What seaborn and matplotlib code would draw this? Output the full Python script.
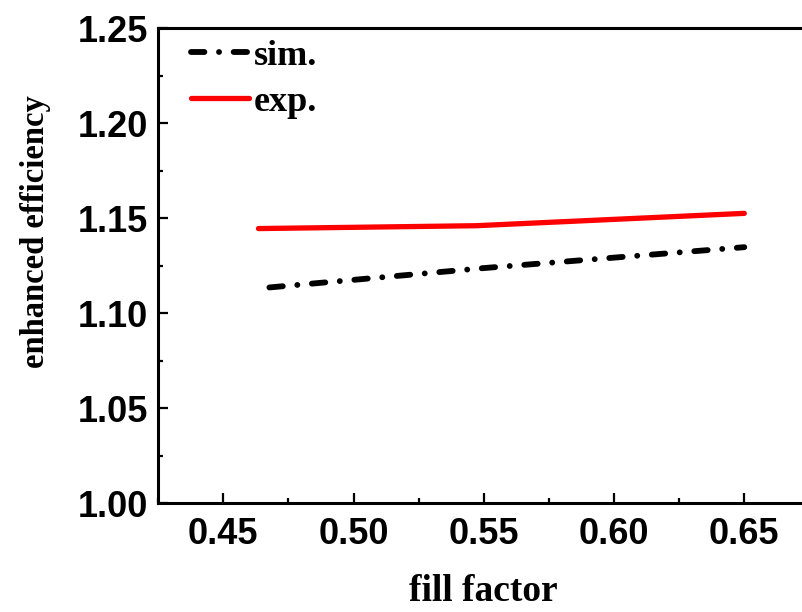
import matplotlib
matplotlib.use("Agg")
import matplotlib.pyplot as plt
import seaborn as sns
import pandas as pd
from matplotlib.ticker import MultipleLocator

sns.set_theme(style="ticks")

# data
sim_x = [0.4677, 0.55, 0.65]
sim_y = [1.1135, 1.1237, 1.1347]
exp_x = [0.4635, 0.547, 0.65]
exp_y = [1.1445, 1.146, 1.1525]
x_ticks = [0.45, 0.50, 0.55, 0.60, 0.65]
y_ticks = [1.00, 1.05, 1.10, 1.15, 1.20, 1.25]

sim_df = pd.DataFrame({"x": sim_x, "y": sim_y})
exp_df = pd.DataFrame({"x": exp_x, "y": exp_y})

fig = plt.figure(figsize=(8.03, 6.12), dpi=100)
ax = fig.add_axes([0.197, 0.178, 0.811, 0.776])

sns.lineplot(data=sim_df, x="x", y="y", ax=ax, color="black", lw=4.2,
             linestyle=(0, (2.3, 2.5, 0.01, 2.5)), dash_capstyle="round",
             label="sim.", sort=False)
sns.lineplot(data=exp_df, x="x", y="y", ax=ax, color="#ff0000", lw=3.8,
             solid_capstyle="round", label="exp.", sort=False)

ax.set_xlim(0.425, 0.675)
ax.set_ylim(1.00, 1.25)
ax.set_xticks(x_ticks)
ax.set_yticks(y_ticks)
ax.set_xticklabels([f"{v:.2f}" for v in x_ticks])
ax.set_yticklabels([f"{v:.2f}" for v in y_ticks])
ax.xaxis.set_minor_locator(MultipleLocator(0.025))
ax.yaxis.set_minor_locator(MultipleLocator(0.025))

ax.tick_params(which="major", direction="in", length=7, width=1.6, pad=7,
               top=False, right=False, color="black")
ax.tick_params(axis="x", which="major", pad=10)
ax.tick_params(which="minor", direction="in", length=3.5, width=1.6,
               top=False, right=False, color="black")
for lab in ax.get_xticklabels() + ax.get_yticklabels():
    lab.set_fontfamily("Liberation Sans")
    lab.set_fontweight("bold")
    lab.set_fontsize(26)
    lab.set_color("black")

for s in ax.spines.values():
    s.set_linewidth(2.2)
    s.set_color("black")

ax.set_xlabel("fill factor", fontfamily="Liberation Serif", fontweight="bold",
              fontsize=27, labelpad=16, color="black")
ax.set_ylabel("enhanced efficiency", fontfamily="Liberation Serif",
              fontweight="bold", fontsize=23.5, color="black")
ax.yaxis.set_label_coords(-0.165, 0.571)

leg = ax.legend(loc="upper left", bbox_to_anchor=(0.028, 1.006), frameon=False,
                handlelength=1.6, handletextpad=0.14, borderaxespad=0.0,
                labelspacing=0.34,
                prop={"family": "Liberation Serif", "weight": "bold", "size": 26})
for t in leg.get_texts():
    t.set_color("black")

fig.savefig("out.png", dpi=100)
